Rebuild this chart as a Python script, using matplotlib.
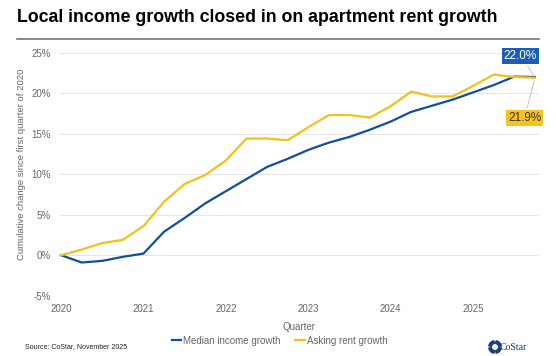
import matplotlib
matplotlib.use("Agg")
import matplotlib.pyplot as plt
from matplotlib.patches import Wedge
import numpy as np

plt.rcParams['font.family'] = ['Liberation Sans', 'DejaVu Sans']

quarters = list(range(24))  # 2020Q1 .. 2025Q4
year_ticks = [0, 4, 8, 12, 16, 20]
year_labels = ["2020", "2021", "2022", "2023", "2024", "2025"]

income = [0.0, -0.9, -0.7, -0.2, 0.2, 2.9, 4.6, 6.4, 7.9, 9.4, 10.9, 11.9,
          13.0, 13.9, 14.6, 15.5, 16.5, 17.7, 18.45, 19.2, 20.1, 21.0, 22.05, 22.0]
rent = [0.0, 0.7, 1.5, 1.9, 3.6, 6.6, 8.8, 9.9, 11.7, 14.4, 14.4, 14.2,
        15.8, 17.3, 17.3, 17.0, 18.4, 20.2, 19.6, 19.6, 20.9, 22.3, 22.0, 21.9]

yticks = [-5, 0, 5, 10, 15, 20, 25]

BLUE = "#0f4f9e"
YELLOW = "#f3c01c"
GRAY = "#666666"

fig = plt.figure(figsize=(5.56, 3.56), dpi=100)
ax = fig.add_axes([59/556, 1-295.7/356, 480/556, (295.7-52.7)/356])

ax.plot(quarters, income, color=BLUE, lw=1.6, label="Median income growth", zorder=3)
ax.plot(quarters, rent, color=YELLOW, lw=1.6, label="Asking rent growth", zorder=3)

ax.set_xlim(-0.1, 23.2)
ax.set_ylim(-5, 25)
ax.set_yticks(yticks)
ax.set_yticklabels([f"{v}%" for v in yticks])
ax.set_xticks(year_ticks)
ax.set_xticklabels(year_labels)
ax.grid(axis='y', color="#e6e6e6", lw=0.8)
ax.set_axisbelow(True)
for s in ax.spines.values():
    s.set_visible(False)
ax.tick_params(axis='both', length=0, labelsize=7, labelcolor=GRAY)
ax.tick_params(axis='y', pad=6)
ax.tick_params(axis='x', pad=6)
ax.set_xlabel("Quarter", fontsize=7, color=GRAY, labelpad=6)
fig.text(21.5/556, 1-164/356, "Cumulative change since first quarter of 2020",
         fontsize=6.8, color=GRAY, rotation=90, ha='center', va='center')

# End labels
last = quarters[-1]
ax.annotate(f"{income[-1]:.1f}%", xy=(last, income[-1]), xytext=(22.3, 24.6),
            ha='center', va='center', fontsize=8.5, color='white',
            bbox=dict(boxstyle='square,pad=0.18', fc="#1a5fb4", ec='none'),
            arrowprops=dict(arrowstyle='-', color='#bbbbbb', lw=0.6), annotation_clip=False)
ax.annotate(f"{rent[-1]:.1f}%", xy=(last, rent[-1]), xytext=(22.5, 16.9),
            ha='center', va='center', fontsize=8.5, color='#333333',
            bbox=dict(boxstyle='square,pad=0.18', fc="#f6c31c", ec='none'),
            arrowprops=dict(arrowstyle='-', color='#bbbbbb', lw=0.6), annotation_clip=False)

# Title and rule
fig.text(17/556, 1-18/356, "Local income growth closed in on apartment rent growth",
         fontsize=12.8, fontweight='bold', color='black', ha='left', va='center')
fig.add_artist(plt.Line2D([17/556, 539/556], [1-39/356, 1-39/356], color="#777777", lw=1.2))

# Legend
fig.legend(loc='center', bbox_to_anchor=(0.503, 1-340.7/356), ncol=2, frameon=False,
           fontsize=7, handlelength=1.0, handletextpad=0.2, columnspacing=1.5,
           labelcolor=GRAY)

# Source
fig.text(25/556, 1-347/356, "Source: CoStar, November 2025", fontsize=5, color="#222222",
         ha='left', va='center')

# CoStar logo
lax = fig.add_axes([488/556, 1-354/356, 14/556, 14/356])
lax.set_xlim(-1, 1)
lax.set_ylim(-1, 1)
lax.set_aspect('equal')
lax.axis('off')
for start in [10, 100, 190, 280]:
    lax.add_patch(Wedge((0, 0), 0.9, start, start + 70, width=0.38, color="#1c3f7a"))
fig.text(500/556, 1-347/356, "CoStar", fontsize=7, family='Liberation Serif',
         color="#1c3a6a", ha='left', va='center')

fig.savefig("out.png", dpi=100)
